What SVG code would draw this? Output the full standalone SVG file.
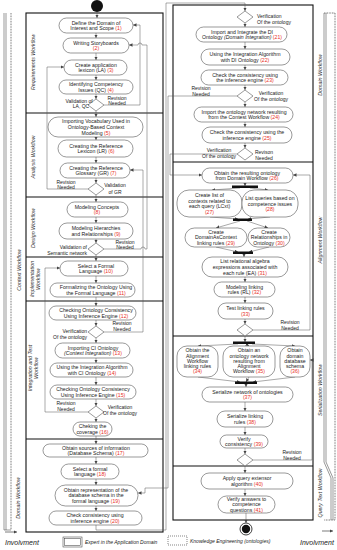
<svg xmlns="http://www.w3.org/2000/svg" width="337" height="550" viewBox="0 0 337 550">
<defs>
<marker id="ar" viewBox="0 0 6 6" markerWidth="3.5" markerHeight="3.5" refX="6" refY="3" orient="auto" markerUnits="userSpaceOnUse"><path d="M0,0 L6,3 L0,6 z" fill="#444"/></marker>
<style>
.n{fill:#fff;stroke:#555;stroke-width:0.6}
.t{font-family:"Liberation Sans",Arial,sans-serif;font-size:5.2px;fill:#222;text-anchor:middle}
.l{font-family:"Liberation Sans",Arial,sans-serif;font-size:5px;fill:#222}
.lane{fill:none;stroke:#111;stroke-width:1.1}
.ln{font-family:"Liberation Sans",Arial,sans-serif;font-size:5.3px;fill:#333;font-style:italic;text-anchor:middle}
.r{fill:#e8311f}
.c{fill:none;stroke:#555;stroke-width:0.5}
.ca{fill:none;stroke:#555;stroke-width:0.5;marker-end:url(#ar)}
.d{fill:#fff;stroke:#555;stroke-width:0.6}
.bar{fill:#111}
.inv{font-family:"Liberation Sans",Arial,sans-serif;font-size:7px;font-style:italic;fill:#222}
</style>
</defs>
<rect width="337" height="550" fill="#fff"/>

<g id="lanes">
<rect class="lane" x="26" y="13" width="137" height="519"/>
<line class="lane" x1="26" y1="113" x2="163" y2="113"/>
<line class="lane" x1="26" y1="197" x2="163" y2="197"/>
<line class="lane" x1="26" y1="257" x2="163" y2="257"/>
<line class="lane" x1="26" y1="301" x2="163" y2="301"/>
<line class="lane" x1="26" y1="439" x2="163" y2="439"/>
<rect class="lane" x="173" y="5" width="140" height="515"/>
<line class="lane" x1="173" y1="162" x2="313" y2="162"/>
<line class="lane" x1="173" y1="336" x2="313" y2="336"/>
<line class="lane" x1="173" y1="466" x2="313" y2="466"/>
<text class="ln" transform="translate(35,62) rotate(-90)">Requirements Workflow</text>
<text class="ln" transform="translate(35,157) rotate(-90)">Analysis Workflow</text>
<text class="ln" transform="translate(35,228) rotate(-90)">Design Workflow</text>
<text class="ln" transform="translate(34,279) rotate(-90)">Implementation</text>
<text class="ln" transform="translate(40,279) rotate(-90)">Workflow</text>
<text class="ln" transform="translate(32,368) rotate(-90)">Integration and Test</text>
<text class="ln" transform="translate(38,368) rotate(-90)">Workflow</text>
<text class="ln" transform="translate(21,270) rotate(-90)">Context Workflow</text>
<text class="ln" transform="translate(20,498) rotate(-90)">Domain Workflow</text>
<text class="ln" transform="translate(322,75) rotate(-90)">Domain Workflow</text>
<text class="ln" transform="translate(322,240) rotate(-90)">Alignment Workflow</text>
<text class="ln" transform="translate(322,390) rotate(-90)">Serialization Workflow</text>
<text class="ln" transform="translate(322,493) rotate(-90)">Query Text Workflow</text>
</g>

<g id="involvement">
<path d="M4,13 V530 M6,13 V530" fill="none" stroke="#333" stroke-width="0.5"/>
<path d="M11,13 V530" fill="none" stroke="#333" stroke-width="0.8" stroke-dasharray="0.8,0.8"/>
<path d="M4,530 H11" fill="none" stroke="#333" stroke-width="0.5"/>
<path d="M324,13 V462 L331,478 V520 M326,13 V462 L333,478 V520" fill="none" stroke="#333" stroke-width="0.5"/>
<path d="M335,13 V520 H324 M324,13 H335" fill="none" stroke="#333" stroke-width="0.8" stroke-dasharray="0.8,0.8"/>
<line x1="5" y1="532" x2="17" y2="532" stroke="#222" stroke-width="0.6" marker-end="url(#ar)"/>
<text class="inv" x="5" y="545">Involvment</text>
<line x1="322" y1="531" x2="333" y2="531" stroke="#222" stroke-width="0.6" marker-end="url(#ar)"/>
<text class="inv" x="300" y="545">Involvment</text>
</g>

<g id="legend">
<rect x="63" y="537" width="19" height="10" fill="#fff" stroke="#333" stroke-width="0.5"/>
<rect x="64.5" y="538.5" width="16" height="7" fill="none" stroke="#333" stroke-width="0.5"/>
<text class="l" x="85" y="544" font-style="italic" font-size="5.5">Expert in the Application Domain</text>
<rect x="168" y="536" width="19" height="9" fill="#fff" stroke="#333" stroke-width="0.6" stroke-dasharray="1,1"/>
<text class="l" x="190" y="543" font-style="italic" font-size="5.5">Knowledge Engineering (ontologies)</text>
</g>

<g id="connectors">
<line class="ca" x1="97" y1="12" x2="97" y2="18"/>
<line class="ca" x1="96" y1="33" x2="96" y2="38"/>
<line class="ca" x1="96" y1="53" x2="96" y2="60"/>
<line class="ca" x1="96" y1="75" x2="96" y2="80"/>
<line class="ca" x1="96" y1="94" x2="96" y2="99"/>
<line class="ca" x1="96" y1="111" x2="96" y2="117"/>
<line class="ca" x1="96" y1="137" x2="96" y2="140"/>
<line class="ca" x1="96" y1="157" x2="96" y2="163"/>
<line class="ca" x1="96" y1="178" x2="96" y2="183"/>
<line class="ca" x1="96" y1="195" x2="96" y2="202"/>
<line class="ca" x1="96" y1="217" x2="96" y2="223"/>
<line class="ca" x1="96" y1="239" x2="96" y2="243"/>
<line class="ca" x1="96" y1="255" x2="96" y2="261"/>
<line class="ca" x1="96" y1="276" x2="96" y2="283"/>
<line class="ca" x1="96" y1="297" x2="96" y2="306"/>
<line class="ca" x1="96" y1="320" x2="96" y2="326"/>
<line class="ca" x1="96" y1="338" x2="96" y2="343"/>
<line class="ca" x1="96" y1="358" x2="96" y2="363"/>
<line class="ca" x1="96" y1="377" x2="96" y2="385"/>
<line class="ca" x1="96" y1="399" x2="96" y2="406"/>
<line class="ca" x1="96" y1="418" x2="96" y2="422"/>
<line class="ca" x1="96" y1="436" x2="96" y2="444"/>
<line class="ca" x1="96" y1="457" x2="96" y2="464"/>
<line class="ca" x1="96" y1="479" x2="96" y2="485"/>
<line class="ca" x1="96" y1="506" x2="96" y2="511"/>
<path class="ca" d="M104,105 H140 V25 H133"/>
<path class="ca" d="M104,249 H141 a2,2 0 0 1 4,0 H147 V45 H142 a2,2 0 0 0 -4,0 H129"/>
<path class="ca" d="M88,189 H47 V67 H64"/>
<path class="ca" d="M104,332 H143 V170 H130"/>
<path class="ca" d="M88,412 H45 V268 H60"/>
<path class="ca" d="M96,525 V530 H166 V3 H245 V11"/>
<path class="ca" d="M237,96 H168 V488 H145 V493 H138"/>
<path class="ca" d="M237,154 H170 V175 H202"/>
<line class="ca" x1="245" y1="23" x2="245" y2="27"/>
<line class="ca" x1="245" y1="42" x2="245" y2="49"/>
<line class="ca" x1="245" y1="65" x2="245" y2="70"/>
<line class="ca" x1="245" y1="85" x2="245" y2="90"/>
<line class="ca" x1="245" y1="102" x2="245" y2="107"/>
<line class="ca" x1="245" y1="122" x2="245" y2="127"/>
<line class="ca" x1="245" y1="143" x2="245" y2="148"/>
<line class="ca" x1="245" y1="183" x2="245" y2="186"/>
<line class="ca" x1="240" y1="188" x2="212" y2="190"/>
<line class="ca" x1="250" y1="188" x2="268" y2="190"/>
<line class="ca" x1="210" y1="217" x2="238" y2="219"/>
<line class="ca" x1="270" y1="217" x2="248" y2="219"/>
<line class="ca" x1="240" y1="221" x2="216" y2="228"/>
<line class="ca" x1="247" y1="221" x2="268" y2="228"/>
<line class="ca" x1="216" y1="247" x2="238" y2="252"/>
<line class="ca" x1="269" y1="247" x2="249" y2="252"/>
<line class="ca" x1="244" y1="254" x2="244" y2="257"/>
<line class="ca" x1="245" y1="277" x2="245" y2="282"/>
<line class="ca" x1="245" y1="297" x2="245" y2="303"/>
<line class="ca" x1="245" y1="319" x2="245" y2="324"/>
<line class="ca" x1="245" y1="336" x2="245" y2="342"/>
<line class="ca" x1="238" y1="344" x2="198" y2="346"/>
<line class="ca" x1="246" y1="344" x2="249" y2="346"/>
<line class="ca" x1="252" y1="344" x2="295" y2="346"/>
<line class="ca" x1="198" y1="377" x2="240" y2="382"/>
<line class="ca" x1="249" y1="377" x2="246" y2="382"/>
<line class="ca" x1="295" y1="377" x2="253" y2="382"/>
<line class="ca" x1="246" y1="384" x2="246" y2="387"/>
<line class="ca" x1="245" y1="402" x2="245" y2="411"/>
<line class="ca" x1="245" y1="427" x2="245" y2="435"/>
<line class="ca" x1="245" y1="448" x2="245" y2="454"/>
<line class="ca" x1="245" y1="466" x2="245" y2="473"/>
<line class="ca" x1="245" y1="489" x2="245" y2="496"/>
<line class="ca" x1="246" y1="513" x2="246" y2="523"/>
<path class="ca" d="M253,330 H310 V175 H293"/>
<path class="ca" d="M253,460 H312 V360 H310"/>
</g>

<g id="start"><circle cx="97" cy="6" r="6" fill="#111"/></g>
<g id="end"><circle cx="246" cy="529" r="6" fill="#fff" stroke="#111" stroke-width="0.8"/><circle cx="246" cy="529" r="4.2" fill="#111"/></g>

<g id="n1"><rect class="n" x="59" y="18" width="74" height="15" rx="7.5"/><text class="t" x="96" y="24.6">Define the Domain of</text><text class="t" x="96" y="30.2">Interest and Scope <tspan class="r">(1)</tspan></text></g>
<g id="n2"><rect class="n" x="63" y="38" width="66" height="15" rx="7.5"/><text class="t" x="96" y="44.6">Writing Storyboards</text><text class="t" x="96" y="50.2"><tspan class="r">(2)</tspan></text></g>
<g id="n3"><rect class="n" x="64" y="60" width="63" height="15" rx="7.5"/><text class="t" x="96" y="66.6">Create application</text><text class="t" x="96" y="72.2">lexicon (LA) <tspan class="r">(3)</tspan></text></g>
<g id="n4"><rect class="n" x="59" y="80" width="74" height="14" rx="7"/><text class="t" x="96" y="86.1">Identifying Competency</text><text class="t" x="96" y="91.7">Issues (QC) <tspan class="r">(4)</tspan></text></g>
<g id="d1"><polygon class="d" points="96,99 104,105 96,111 88,105"/><text class="l" x="79" y="102.8" text-anchor="middle">Validation of</text><text class="l" x="81" y="108.3" text-anchor="middle">LA, QC</text><text class="l" x="117" y="99.5" text-anchor="middle">Revision</text><text class="l" x="117" y="105" text-anchor="middle">Needed</text></g>
<g id="n5"><rect class="n" x="48" y="117" width="95" height="20" rx="10"/><text class="t" x="96" y="123.3">Importing Vocabulary Used in</text><text class="t" x="96" y="128.9">Ontology-Based Context</text><text class="t" x="96" y="134.5">Modeling <tspan class="r">(5)</tspan></text></g>
<g id="n6"><rect class="n" x="58" y="140" width="75" height="17" rx="8.5"/><text class="t" x="96" y="147.6">Creating the Reference</text><text class="t" x="96" y="153.2">Lexicon (LR) <tspan class="r">(6)</tspan></text></g>
<g id="n7"><rect class="n" x="60" y="163" width="70" height="15" rx="7.5"/><text class="t" x="96" y="169.6">Creating the Reference</text><text class="t" x="96" y="175.2">Glossary (GR) <tspan class="r">(7)</tspan></text></g>
<g id="d2"><polygon class="d" points="96,183 104,189 96,195 88,189"/><text class="l" x="66" y="183.5" text-anchor="middle">Revision</text><text class="l" x="66" y="189" text-anchor="middle">Needed</text><text class="l" x="115" y="187" text-anchor="middle">Validation</text><text class="l" x="115" y="193.5" text-anchor="middle">of GR</text></g>
<g id="n8"><rect class="n" x="67" y="202" width="61" height="15" rx="7.5"/><text class="t" x="97" y="208.6">Modeling Concepts</text><text class="t" x="97" y="214.2"><tspan class="r">(8)</tspan></text></g>
<g id="n9"><rect class="n" x="59" y="223" width="74" height="16" rx="8"/><text class="t" x="96" y="230.1">Modeling Hierarchies</text><text class="t" x="96" y="235.7">and Relationships <tspan class="r">(9)</tspan></text></g>
<g id="d3"><polygon class="d" points="96,243 104,249 96,255 88,249"/><text class="l" x="87" y="249" text-anchor="end">Validation of</text><text class="l" x="87" y="255" text-anchor="end">Semantic network</text><text class="l" x="125" y="244" text-anchor="middle">Revision</text><text class="l" x="125" y="249" text-anchor="middle">Needed</text></g>
<g id="n10"><rect class="n" x="60" y="261" width="68" height="15" rx="7.5"/><text class="t" x="96" y="267.6">Select a Formal</text><text class="t" x="96" y="273.2">Language <tspan class="r">(10)</tspan></text></g>
<g id="n11"><rect class="n" x="50" y="283" width="85" height="14" rx="7"/><text class="t" x="96" y="289.1">Formalizing the Ontology Using</text><text class="t" x="96" y="294.7">the Formal Language <tspan class="r">(11)</tspan></text></g>
<g id="n12"><rect class="n" x="49" y="306" width="87" height="14" rx="7"/><text class="t" x="96" y="312.1">Checking Ontology Consistency</text><text class="t" x="96" y="317.7">Using Inference Engine <tspan class="r">(12)</tspan></text></g>
<g id="d4"><polygon class="d" points="96,326 104,332 96,338 88,332"/><text class="l" x="87" y="333" text-anchor="end">Verification</text><text class="l" x="87" y="339" text-anchor="end">Of the ontology</text><text class="l" x="122" y="325" text-anchor="middle">Revision</text><text class="l" x="122" y="331" text-anchor="middle">Needed</text></g>
<g id="n13"><rect class="n" x="55" y="343" width="75" height="15" rx="7.5"/><text class="t" x="93" y="349.6">Importing CI Ontology</text><text class="t" x="93" y="355.2"><tspan font-style="italic">(Context Integration)</tspan> <tspan class="r">(13)</tspan></text></g>
<g id="n14"><rect class="n" x="50" y="363" width="83" height="14" rx="7"/><text class="t" x="92" y="369.1">Using the Integration Algorithm</text><text class="t" x="92" y="374.7">with CI Ontology <tspan class="r">(14)</tspan></text></g>
<g id="n15"><rect class="n" x="50" y="385" width="86" height="14" rx="7"/><text class="t" x="93" y="391.1">Checking Ontology Consistency</text><text class="t" x="93" y="396.7">Using Inference Engine <tspan class="r">(15)</tspan></text></g>
<g id="d5"><polygon class="d" points="96,406 104,412 96,418 88,412"/><text class="l" x="66" y="405" text-anchor="middle">Revision</text><text class="l" x="66" y="411" text-anchor="middle">Needed</text><text class="l" x="120" y="409" text-anchor="middle">Verification</text><text class="l" x="120" y="415" text-anchor="middle">Of the ontology</text></g>
<g id="n16"><rect class="n" x="73" y="422" width="39" height="14" rx="7"/><text class="t" x="92.5" y="428.1">Cheking the</text><text class="t" x="92.5" y="433.7">coverage <tspan class="r">(16)</tspan></text></g>
<g id="n17"><rect class="n" x="43" y="444" width="105" height="13" rx="6.5"/><text class="t" x="96" y="449.6">Obtain sources of information</text><text class="t" x="96" y="455.2">(Database Schema) <tspan class="r">(17)</tspan></text></g>
<g id="n18"><rect class="n" x="61" y="464" width="58" height="15" rx="7.5"/><text class="t" x="90" y="470.6">Select a formal</text><text class="t" x="90" y="476.2">language <tspan class="r">(18)</tspan></text></g>
<g id="n19"><rect class="n" x="55" y="485" width="83" height="21" rx="10.5"/><text class="t" x="96" y="491.8">Obtain representation of the</text><text class="t" x="96" y="497.4">database schema in the</text><text class="t" x="96" y="503">formal language <tspan class="r">(19)</tspan></text></g>
<g id="n20"><rect class="n" x="49" y="511" width="93" height="14" rx="7"/><text class="t" x="95" y="517.1">Check consistency using</text><text class="t" x="95" y="522.7">inference engine <tspan class="r">(20)</tspan></text></g>

<g id="d6"><polygon class="d" points="245,11 253,17 245,23 237,17"/><text class="l" x="257" y="18">Verification</text><text class="l" x="257" y="24">Of the ontology</text></g>
<g id="n21"><rect class="n" x="196" y="27" width="91" height="15" rx="7.5"/><text class="t" x="242" y="33.6">Import and Integrate the DI</text><text class="t" x="242" y="39.2">Ontology <tspan font-style="italic">(Domain Integration)</tspan> <tspan class="r">(21)</tspan></text></g>
<g id="n22"><rect class="n" x="201" y="49" width="89" height="16" rx="8"/><text class="t" x="245" y="56.1">Using the Integration Algorithm</text><text class="t" x="245" y="61.7">with DI Ontology <tspan class="r">(22)</tspan></text></g>
<g id="n23"><rect class="n" x="201" y="70" width="87" height="15" rx="7.5"/><text class="t" x="245" y="76.6">Check the consistency using</text><text class="t" x="245" y="82.2">the inference engine <tspan class="r">(23)</tspan></text></g>
<g id="d7"><polygon class="d" points="245,90 253,96 245,102 237,96"/><text class="l" x="201" y="90" text-anchor="middle">Revision</text><text class="l" x="201" y="95.5" text-anchor="middle">Needed</text><text class="l" x="271" y="95" text-anchor="middle">Verification</text><text class="l" x="271" y="101" text-anchor="middle">Of the ontology</text></g>
<g id="n24"><rect class="n" x="194" y="107" width="99" height="15" rx="7.5"/><text class="t" x="244" y="113.6">Import the ontology network resulting</text><text class="t" x="244" y="119.2">from the Contest Workflow <tspan class="r">(24)</tspan></text></g>
<g id="n25"><rect class="n" x="202" y="127" width="90" height="16" rx="8"/><text class="t" x="247" y="134.1">Check the consistency using the</text><text class="t" x="247" y="139.7">inference engine <tspan class="r">(25)</tspan></text></g>
<g id="d8"><polygon class="d" points="245,148 253,154 245,160 237,154"/><text class="l" x="219" y="152" text-anchor="middle">Verification</text><text class="l" x="219" y="157.5" text-anchor="middle">Of the ontology</text><text class="l" x="264" y="154" text-anchor="middle">Revison</text><text class="l" x="264" y="159.5" text-anchor="middle">Needed</text></g>
<g id="n26"><rect class="n" x="202" y="168" width="91" height="15" rx="7.5"/><text class="t" x="247" y="174.6">Obtain the resulting ontology</text><text class="t" x="247" y="180.2">from Domain Workflow <tspan class="r">(26)</tspan></text></g>
<g id="bars"><rect class="bar" x="232" y="185.5" width="26" height="2.5"/><rect class="bar" x="233" y="218.5" width="19" height="2.5"/><rect class="bar" x="233" y="251.5" width="20" height="2.5"/><rect class="bar" x="233" y="341.5" width="22" height="2.5"/><rect class="bar" x="235" y="381.5" width="22" height="2.5"/></g>
<g id="n27"><rect class="n" x="177" y="190" width="65" height="27" rx="12"/><text class="t" x="209.5" y="197">Create list of</text><text class="t" x="209.5" y="202.6">contexts related to</text><text class="t" x="209.5" y="208.2">each query (LCxt)</text><text class="t" x="209.5" y="213.8"><tspan class="r">(27)</tspan></text></g>
<g id="n28"><rect class="n" x="242" y="190" width="56" height="27" rx="12"/><text class="t" x="270" y="200.2">List queries based on</text><text class="t" x="270" y="205.8">competence issues</text><text class="t" x="270" y="211.4"><tspan class="r">(28)</tspan></text></g>
<g id="n29"><rect class="n" x="185" y="228" width="62" height="19" rx="9.5"/><text class="t" x="216" y="233.8">Create</text><text class="t" x="216" y="239.4">DomainAsContext</text><text class="t" x="216" y="245">linking rules <tspan class="r">(29)</tspan></text></g>
<g id="n30"><rect class="n" x="248" y="228" width="42" height="19" rx="9.5"/><text class="t" x="269" y="233.8">Create</text><text class="t" x="269" y="239.4">Relationships in</text><text class="t" x="269" y="245">Ontology <tspan class="r">(30)</tspan></text></g>
<g id="n31"><rect class="n" x="202" y="257" width="86" height="20" rx="10"/><text class="t" x="245" y="263.3">List relational algebra</text><text class="t" x="245" y="268.9">expressions associated with</text><text class="t" x="245" y="274.5">each rule (EA) <tspan class="r">(31)</tspan></text></g>
<g id="n32"><rect class="n" x="214" y="282" width="61" height="15" rx="7.5"/><text class="t" x="244.5" y="288.6">Modeling linking</text><text class="t" x="244.5" y="294.2">rules (RL) <tspan class="r">(32)</tspan></text></g>
<g id="n33"><rect class="n" x="218" y="303" width="55" height="16" rx="8"/><text class="t" x="245.5" y="310.1">Test linking rules</text><text class="t" x="245.5" y="315.7"><tspan class="r">(33)</tspan></text></g>
<g id="d9"><polygon class="d" points="245,324 253,330 245,336 237,330"/><text class="l" x="290" y="324" text-anchor="middle">Revision</text><text class="l" x="290" y="329.5" text-anchor="middle">Needed</text></g>
<g id="n34"><rect class="n" x="177" y="346" width="41" height="31" rx="10"/><text class="t" x="197.5" y="352.2">Obtain the</text><text class="t" x="197.5" y="357.5">Alignment</text><text class="t" x="197.5" y="362.8">Workflow</text><text class="t" x="197.5" y="368.1">linking rules</text><text class="t" x="197.5" y="373.4"><tspan class="r">(34)</tspan></text></g>
<g id="n35"><rect class="n" x="223" y="346" width="52" height="31" rx="10"/><text class="t" x="249" y="352.2">Obtain an</text><text class="t" x="249" y="357.5">ontology network</text><text class="t" x="249" y="362.8">resulting from</text><text class="t" x="249" y="368.1">Alignment</text><text class="t" x="249" y="373.4">Workflow <tspan class="r">(35)</tspan></text></g>
<g id="n36"><rect class="n" x="280" y="346" width="30" height="31" rx="10"/><text class="t" x="295" y="352.2">Obtain</text><text class="t" x="295" y="357.5">domain</text><text class="t" x="295" y="362.8">database</text><text class="t" x="295" y="368.1">schema</text><text class="t" x="295" y="373.4"><tspan class="r">(36)</tspan></text></g>
<g id="n37"><rect class="n" x="202" y="387" width="91" height="15" rx="7.5"/><text class="t" x="247.5" y="393.6">Serialize network of ontologies</text><text class="t" x="247.5" y="399.2"><tspan class="r">(37)</tspan></text></g>
<g id="n38"><rect class="n" x="217" y="411" width="56" height="16" rx="8"/><text class="t" x="245" y="418.1">Serialize linking</text><text class="t" x="245" y="423.7">rules <tspan class="r">(38)</tspan></text></g>
<g id="n39"><rect class="n" x="220" y="435" width="48" height="13" rx="6.5"/><text class="t" x="244" y="440.6">Verify</text><text class="t" x="244" y="446.2">consistency <tspan class="r">(39)</tspan></text></g>
<g id="d10"><polygon class="d" points="245,454 253,460 245,466 237,460"/><text class="l" x="292" y="454" text-anchor="middle">Revision</text><text class="l" x="292" y="459.5" text-anchor="middle">Needed</text></g>
<g id="n40"><rect class="n" x="201" y="473" width="92" height="16" rx="8"/><text class="t" x="247" y="480.1">Apply query extensor</text><text class="t" x="247" y="485.7">algorithm <tspan class="r">(40)</tspan></text></g>
<g id="n41"><rect class="n" x="218" y="496" width="57" height="17" rx="8.5"/><text class="t" x="246.5" y="500.8">Verify answers to</text><text class="t" x="246.5" y="506.4">competence</text><text class="t" x="246.5" y="512">questions <tspan class="r">(41)</tspan></text></g>
</svg>
